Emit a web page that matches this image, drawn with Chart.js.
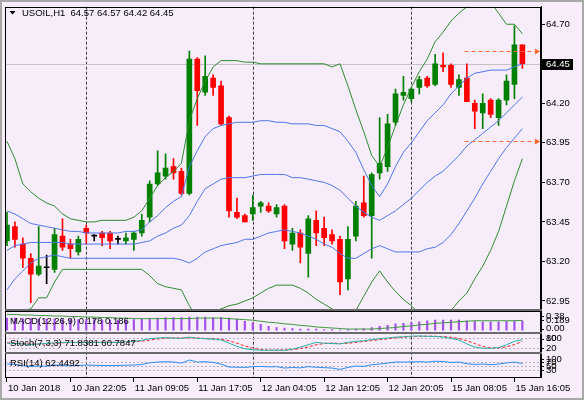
<!DOCTYPE html>
<html>
<head>
<meta charset="utf-8">
<script src="https://cdn.jsdelivr.net/npm/chart.js@4.4.1/dist/chart.umd.min.js"></script>
<style>
  html, body { margin: 0; padding: 0; background: #f6ecfa; }
  #wrap { width: 584px; height: 400px; }
</style>
</head>
<body>
<div id="wrap"><canvas id="chart" width="584" height="400"></canvas></div>
<script>
// USOIL H1 candles
const opens = [63.33,63.42,63.31,63.22,63.12,63.16,63.15,63.36,63.31,63.26,
  63.41,63.36,63.38,63.38,63.34,63.33,63.34,63.38,63.48,63.69,
  63.74,63.80,63.77,63.63,64.48,64.27,64.36,64.31,64.11,63.51,
  63.49,63.50,63.55,63.55,63.50,63.55,63.31,63.38,63.25,63.46,
  63.41,63.37,63.34,63.09,63.36,63.57,63.49,63.76,63.80,64.08,
  64.25,64.23,64.30,64.36,64.32,64.44,64.44,64.30,64.36,64.20,
  64.14,64.22,64.11,64.22,64.32,64.57];
const highs = [63.51,63.45,63.35,63.25,63.42,63.24,63.41,63.47,63.34,63.36,
  63.43,63.37,63.39,63.39,63.36,63.38,63.39,63.50,63.71,63.90,
  63.88,63.85,63.79,64.53,64.49,64.50,64.38,64.34,64.12,63.60,
  63.50,63.62,63.58,63.57,63.56,63.56,63.41,63.40,63.49,63.52,
  63.48,63.40,63.36,63.42,63.58,63.74,63.76,64.11,64.13,64.29,
  64.37,64.30,64.37,64.37,64.51,64.52,64.45,64.38,64.45,64.22,
  64.26,64.23,64.23,64.38,64.69,64.57];
const lows = [63.30,63.29,63.16,62.94,63.11,63.06,63.13,63.27,63.22,63.24,
  63.31,63.33,63.30,63.28,63.31,63.31,63.27,63.36,63.45,63.68,
  63.72,63.72,63.62,63.62,64.06,64.25,64.25,64.06,63.48,63.47,
  63.45,63.46,63.51,63.51,63.48,63.28,63.27,63.19,63.10,63.30,
  63.30,63.31,62.99,63.02,63.33,63.48,63.22,63.72,63.77,64.06,
  64.22,64.21,64.26,64.30,64.31,64.40,64.30,64.25,64.21,64.04,
  64.04,64.11,64.06,64.19,64.23,64.42];
const closes = [63.43,63.34,63.22,63.12,63.17,63.16,63.37,63.29,63.28,63.34,
  63.38,63.36,63.35,63.33,63.34,63.35,63.38,63.46,63.69,63.76,
  63.79,63.76,63.63,64.48,64.28,64.37,64.30,64.07,63.52,63.48,
  63.45,63.54,63.57,63.52,63.54,63.33,63.38,63.29,63.47,63.38,
  63.35,63.33,63.07,63.34,63.55,63.49,63.75,63.82,64.07,64.26,
  64.27,64.29,64.35,64.31,64.45,64.43,64.32,64.35,64.21,64.15,
  64.20,64.13,64.22,64.34,64.57,64.45];

// Bollinger bands: outer (green) and inner (blue) with middle line
const bandUpper2 = [63.96,63.85,63.69,63.64,63.60,63.57,63.55,63.50,63.47,63.46,
  63.45,63.45,63.46,63.46,63.46,63.46,63.48,63.52,63.60,63.68,
  63.73,63.77,63.82,64.09,64.23,64.34,64.43,64.47,64.47,64.47,
  64.46,64.46,64.45,64.45,64.45,64.45,64.45,64.45,64.45,64.45,
  64.45,64.43,64.45,64.31,64.16,64.02,63.87,63.80,63.92,64.06,
  64.19,64.30,64.40,64.48,64.59,64.65,64.72,64.77,64.81,64.85,
  64.86,64.84,64.77,64.70,64.70,64.64];
const bandUpper1 = [63.52,63.50,63.47,63.44,63.43,63.42,63.41,63.40,63.39,63.39,
  63.38,63.38,63.38,63.38,63.38,63.39,63.39,63.40,63.45,63.49,
  63.54,63.58,63.61,63.80,63.90,63.99,64.04,64.06,64.07,64.08,
  64.08,64.08,64.09,64.09,64.08,64.08,64.07,64.07,64.07,64.06,
  64.06,64.04,64.02,63.96,63.89,63.78,63.68,63.61,63.69,63.80,
  63.89,63.95,64.02,64.09,64.14,64.19,64.26,64.31,64.36,64.39,
  64.40,64.41,64.41,64.41,64.43,64.45];
const bandMiddle = [63.27,63.30,63.31,63.32,63.32,63.32,63.32,63.32,63.31,63.31,
  63.31,63.31,63.31,63.31,63.31,63.31,63.31,63.32,63.33,63.36,
  63.38,63.41,63.43,63.49,63.58,63.66,63.69,63.72,63.73,63.73,
  63.73,63.74,63.75,63.75,63.75,63.75,63.73,63.73,63.72,63.71,
  63.70,63.68,63.65,63.60,63.55,63.51,63.48,63.46,63.49,63.52,
  63.56,63.60,63.65,63.70,63.74,63.77,63.82,63.87,63.93,63.97,
  64.01,64.05,64.09,64.14,64.19,64.24];
const bandLower1 = [63.02,63.09,63.14,63.19,63.22,63.23,63.24,63.23,63.22,63.22,
  63.22,63.22,63.22,63.22,63.22,63.22,63.22,63.22,63.22,63.22,
  63.22,63.22,63.21,63.19,63.22,63.26,63.28,63.30,63.31,63.32,
  63.34,63.34,63.36,63.38,63.39,63.40,63.39,63.38,63.36,63.34,
  63.31,63.29,63.25,63.22,63.22,63.25,63.28,63.30,63.28,63.26,
  63.26,63.26,63.26,63.28,63.29,63.32,63.37,63.44,63.52,63.60,
  63.69,63.77,63.85,63.92,63.98,64.04];
const bandLower2 = [62.76,62.84,62.89,62.90,62.97,62.97,63.07,63.15,63.15,63.15,
  63.15,63.15,63.15,63.15,63.15,63.15,63.15,63.15,63.11,63.06,
  63.04,63.03,63.02,62.92,62.84,62.85,62.88,62.90,62.92,62.93,
  62.95,62.97,63.00,63.03,63.05,63.05,63.05,63.03,63.00,62.96,
  62.93,62.90,62.86,62.84,62.89,62.98,63.07,63.14,63.07,63.01,
  62.96,62.92,62.87,62.84,62.83,62.84,62.89,62.95,63.00,63.09,
  63.17,63.27,63.39,63.55,63.71,63.85];

// MACD(12,26,9)
const macdMain = [0.23,0.23,0.22,0.22,0.21,0.21,0.21,0.20,0.20,0.20,
  0.20,0.20,0.19,0.19,0.19,0.19,0.20,0.21,0.22,0.23,
  0.24,0.24,0.24,0.25,0.25,0.25,0.24,0.24,0.23,0.21,
  0.17,0.14,0.11,0.07,0.05,0.04,0.03,0.02,0.02,0.02,
  0.01,0.01,0.00,0.01,0.02,0.03,0.05,0.07,0.09,0.12,
  0.13,0.15,0.16,0.18,0.19,0.19,0.19,0.19,0.18,0.17,
  0.16,0.16,0.16,0.17,0.18,0.178];
const macdSignal = [0.30,0.30,0.29,0.29,0.28,0.28,0.27,0.27,0.26,0.26,
  0.25,0.25,0.24,0.24,0.23,0.23,0.22,0.22,0.22,0.22,
  0.22,0.22,0.22,0.22,0.23,0.23,0.23,0.23,0.22,0.21,
  0.20,0.19,0.17,0.15,0.14,0.12,0.11,0.09,0.08,0.06,
  0.05,0.04,0.03,0.02,0.02,0.02,0.02,0.03,0.04,0.05,
  0.07,0.08,0.10,0.11,0.13,0.14,0.15,0.16,0.17,0.18,
  0.18,0.18,0.18,0.18,0.18,0.186];

// Stoch(7,3,3)
const stochMain = [50,48,45,42,45,48,52,55,55,55,
  55,55,55,55,55,58,60,68,78,82,
  85,82,80,88,80,78,75,70,50,30,
  15,8,6,5,6,5,12,25,40,55,
  50,48,45,55,62,65,72,78,82,88,
  90,94,95,93,92,88,80,70,45,25,
  18,18,22,40,62,71.8381];
const stochSignal = [52,50,47,45,44,45,48,52,54,55,
  55,55,55,55,55,56,58,62,69,76,
  82,83,82,83,83,79,78,74,65,50,
  32,18,10,6,6,7,9,16,26,40,
  48,51,48,49,54,61,66,72,77,83,
  87,91,93,94,93,91,87,79,65,47,
  29,20,19,27,41,60.7847];

// RSI(14)
const rsiValues = [60,58,52,48,50,49,55,52,52,53,
  55,54,53,52,53,54,55,58,66,70,
  72,70,65,80,70,72,68,60,45,44,
  43,47,48,46,47,40,43,41,47,44,
  42,40,33,43,50,48,57,60,65,70,
  70,71,72,70,74,73,68,70,62,58,
  60,57,60,66,70,62.4492];

const tickAt = [0, 8, 16, 24, 32, 40, 48, 56, 64];
const tickLabels = ['10 Jan 2018', '10 Jan 22:05', '11 Jan 09:05', '11 Jan 17:05',
  '12 Jan 04:05', '12 Jan 12:05', '12 Jan 20:05', '15 Jan 08:05', '15 Jan 16:05'];
const priceTicks = [62.95, 63.20, 63.45, 63.70, 63.95, 64.20, 64.45, 64.70];
const daySeparators = [10, 31, 51];
const levelLines = [64.53, 63.96];
const levelFrom = 57.7;
const macdAxisText = ['0.38', '0.189', '0.00'];
const stochAxisText = ['100', '80', '20'];
const rsiAxisText = ['100', '70', '50', '30'];
const stochLevels = [80, 20];
const rsiLevels = [70, 50, 30];

const BG = '#f6ecfa';
const FAMILY = '"Liberation Sans", Arial, sans-serif';
const FONT = '9.5px ' + FAMILY;

const pts = arr => arr.map((v, i) => ({x: i, y: v}));
const candleColor = closes.map((c, i) => c > opens[i] ? '#008000' : (c < opens[i] ? '#ff0000' : '#000000'));

function bandLine(data, color) {
  return {
    type: 'line', data: pts(data), yAxisID: 'y', borderColor: color, borderWidth: 1,
    pointRadius: 0, tension: 0, order: 0
  };
}

function subText(ctx, scale, items, right) {
  items.forEach(t => {
    let y = scale.getPixelForValue(Number(t));
    y = Math.min(Math.max(y, scale.top + 6), scale.bottom - 4);
    ctx.fillText(t, right + 5, y);
    ctx.beginPath();
    ctx.moveTo(right, Math.round(y) + 0.5);
    ctx.lineTo(right + 3, Math.round(y) + 0.5);
    ctx.stroke();
  });
}

const mt4 = {
  id: 'mt4',
  beforeDraw(chart) {
    const c = chart.ctx;
    c.save();
    c.fillStyle = BG;
    c.fillRect(0, 0, chart.width, chart.height);
    c.restore();
  },
  beforeDatasetsDraw(chart) {
    const c = chart.ctx, a = chart.chartArea, s = chart.scales;
    c.save();
    c.lineWidth = 1;
    // period separators
    c.strokeStyle = '#3c3c3c';
    c.setLineDash([3, 2]);
    daySeparators.forEach(i => {
      const x = Math.round(s.x.getPixelForValue(i)) + 0.5;
      c.beginPath(); c.moveTo(x, a.top); c.lineTo(x, a.bottom); c.stroke();
    });
    // indicator levels
    c.strokeStyle = '#b8b0bc';
    c.setLineDash([2, 2]);
    [[s.stoch, stochLevels], [s.rsi, rsiLevels]].forEach(([sc, lv]) => lv.forEach(v => {
      const y = Math.round(sc.getPixelForValue(v)) + 0.5;
      c.beginPath(); c.moveTo(a.left, y); c.lineTo(a.right, y); c.stroke();
    }));
    // bid line
    c.setLineDash([]);
    c.strokeStyle = '#c4c0c6';
    const yb = Math.round(s.y.getPixelForValue(closes[closes.length - 1])) + 0.5;
    c.beginPath(); c.moveTo(a.left, yb); c.lineTo(a.right, yb); c.stroke();
    c.restore();
  },
  afterDatasetsDraw(chart) {
    const c = chart.ctx, a = chart.chartArea, s = chart.scales;
    const n = closes.length - 1;
    c.save();
    // trade levels with arrows
    c.strokeStyle = '#ff6633';
    c.fillStyle = '#ff6633';
    c.lineWidth = 1;
    c.setLineDash([4, 3]);
    levelLines.forEach(v => {
      const y = Math.round(s.y.getPixelForValue(v)) + 0.5;
      const x0 = s.x.getPixelForValue(levelFrom), x1 = a.right - 6;
      c.beginPath(); c.moveTo(x0, y); c.lineTo(x1, y); c.stroke();
      c.beginPath(); c.moveTo(x1, y - 3); c.lineTo(x1 + 5, y); c.lineTo(x1, y + 3); c.closePath(); c.fill();
    });
    c.setLineDash([]);

    // panel frames and separators
    const panes = [s.y, s.macd, s.stoch, s.rsi];
    c.strokeStyle = '#000';
    panes.forEach(p => {
      c.strokeRect(a.left + 0.5, Math.round(p.top) + 0.5, a.right - a.left - 1, Math.round(p.bottom - p.top));
    });
    c.fillStyle = '#6a6a6a';
    panes.slice(0, 3).forEach(p => {
      c.fillRect(a.left, Math.round(p.bottom) - 1, a.right - a.left + 1, 2);
    });
    // window frame
    c.strokeStyle = '#a8a8a8';
    c.lineWidth = 2;
    c.strokeRect(1, 1, chart.width - 2, chart.height - 2);
    c.lineWidth = 1;

    // title
    c.fillStyle = '#000';
    c.beginPath(); c.moveTo(9.5, 11); c.lineTo(15.5, 11); c.lineTo(12.5, 14.5); c.closePath(); c.fill();
    c.font = FONT;
    c.textBaseline = 'middle';
    c.textAlign = 'left';
    const f = v => v.toFixed(2);
    c.fillText('USOIL,H1  ' + [opens[n], highs[n], lows[n], closes[n]].map(f).join(' '), 22, 13);

    // indicator names
    c.fillText('MACD(12,26,9) ' + macdMain[n].toFixed(3) + ' ' + macdSignal[n].toFixed(3), 10, s.macd.top + 11);
    c.fillText('Stoch(7,3,3) ' + stochMain[n].toFixed(4) + ' ' + stochSignal[n].toFixed(4), 10, s.stoch.top + 10.5);
    c.fillText('RSI(14) ' + rsiValues[n].toFixed(4), 10, s.rsi.top + 10);

    // sub window scales
    c.strokeStyle = '#000';
    subText(c, s.macd, macdAxisText, a.right);
    subText(c, s.stoch, stochAxisText, a.right);
    subText(c, s.rsi, rsiAxisText, a.right);

    // current price box
    const yp = Math.round(s.y.getPixelForValue(closes[n]));
    c.fillStyle = '#000';
    c.fillRect(a.right + 1, yp - 5, 31, 11);
    c.fillStyle = '#fff';
    c.fillText(f(closes[n]), a.right + 5, yp + 0.5);
    c.restore();
  }
};

const subScale = (weight, min, max) => ({
  type: 'linear', position: 'right', stack: 'panes', stackWeight: weight, min: min, max: max,
  afterFit: s => { s.width = 43; },
  ticks: {display: false},
  grid: {display: false},
  border: {display: true, color: '#000'}
});

new Chart(document.getElementById('chart'), {
  type: 'bar',
  data: {
    datasets: [
      bandLine(bandUpper2, '#2f8a2f'),
      bandLine(bandUpper1, '#5078e6'),
      bandLine(bandMiddle, '#5078e6'),
      bandLine(bandLower1, '#5078e6'),
      bandLine(bandLower2, '#2f8a2f'),
      {
        data: opens.map((o, i) => ({x: i, y: [o, closes[i]]})), yAxisID: 'y',
        backgroundColor: candleColor, barThickness: 5, grouped: false, minBarLength: 1, order: 2
      },
      {
        data: lows.map((l, i) => ({x: i, y: [l, highs[i]]})), yAxisID: 'y',
        backgroundColor: candleColor, barThickness: 1, grouped: false, order: 3
      },
      {
        data: pts(macdMain), yAxisID: 'macd', backgroundColor: '#a64ee8',
        barThickness: 1.5, grouped: false, order: 4
      },
      {
        type: 'line', data: pts(macdSignal), yAxisID: 'macd', borderColor: '#3f9a3f',
        borderWidth: 1, pointRadius: 0, order: 0
      },
      {
        type: 'line', data: pts(stochMain), yAxisID: 'stoch', borderColor: '#25b3aa',
        borderWidth: 1, pointRadius: 0, order: 0
      },
      {
        type: 'line', data: pts(stochSignal), yAxisID: 'stoch', borderColor: '#ff2020',
        borderWidth: 1, borderDash: [3, 2], pointRadius: 0, order: 0
      },
      {
        type: 'line', data: pts(rsiValues), yAxisID: 'rsi', borderColor: '#2a8ff0',
        borderWidth: 1, pointRadius: 0, order: 0
      }
    ]
  },
  options: {
    responsive: false,
    animation: false,
    events: [],
    layout: {padding: {left: 5, top: 5, right: 0, bottom: 0}},
    plugins: {legend: {display: false}, tooltip: {enabled: false}},
    scales: {
      x: {
        type: 'linear', position: 'bottom', min: -0.25, max: 67.35, offset: false,
        afterBuildTicks: s => { s.ticks = tickAt.map(v => ({value: v})); },
        afterFit: s => { s.height = 23; },
        ticks: {
          callback: (v, i) => tickLabels[i], align: 'start', labelOffset: 1, padding: 1,
          maxRotation: 0, autoSkip: false, color: '#000', font: {family: FAMILY, size: 9.5}
        },
        grid: {drawOnChartArea: false, drawTicks: true, tickLength: 5, color: '#000', offset: false},
        border: {display: true, color: '#000'}
      },
      y: {
        type: 'linear', position: 'right', stack: 'panes', stackWeight: 305,
        min: 62.891, max: 64.811,
        afterBuildTicks: s => { s.ticks = priceTicks.map(v => ({value: v})); },
        afterFit: s => { s.width = 43; },
        ticks: {callback: v => v.toFixed(2), color: '#000', padding: 1, font: {family: FAMILY, size: 9.5}},
        grid: {drawOnChartArea: false, drawTicks: true, tickLength: 4, color: '#000'},
        border: {display: true, color: '#000'}
      },
      macd: subScale(22.5, -0.05, 0.38),
      stoch: subScale(20.5, -12.5, 115.6),
      rsi: subScale(24, -5, 115)
    }
  },
  plugins: [mt4]
});
</script>
</body>
</html>
